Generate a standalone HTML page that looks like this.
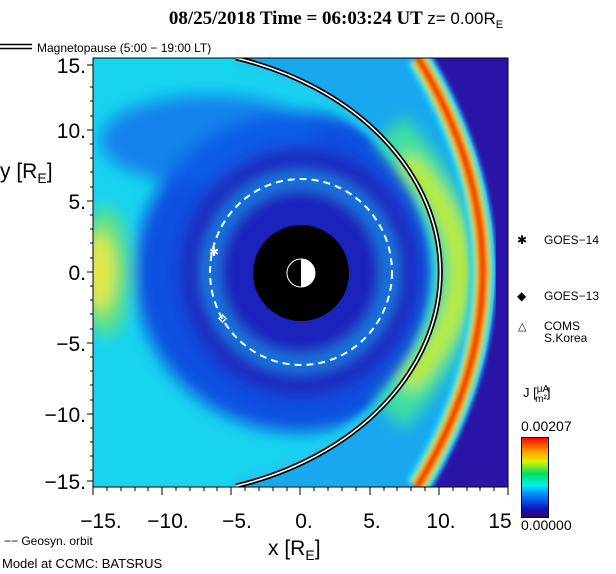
<!DOCTYPE html>
<html><head><style>
html,body{margin:0;padding:0;background:#fff;width:616px;height:574px;overflow:hidden;font-family:"Liberation Sans",sans-serif}
svg{display:block}
</style></head><body>
<svg width="616" height="574" viewBox="0 0 616 574" xmlns="http://www.w3.org/2000/svg">
<defs>
<clipPath id="pc"><rect x="93" y="58" width="415" height="429"/></clipPath>
<filter id="b8" x="-50%" y="-50%" width="200%" height="200%"><feGaussianBlur stdDeviation="8"/></filter>
<filter id="b4" x="-50%" y="-50%" width="200%" height="200%"><feGaussianBlur stdDeviation="4"/></filter>
<filter id="b2" x="-20%" y="-20%" width="140%" height="140%"><feGaussianBlur stdDeviation="2"/></filter>
<linearGradient id="cb" x1="0" y1="1" x2="0" y2="0">
<stop offset="0" stop-color="#3a0060"/><stop offset="0.1" stop-color="#1010c0"/>
<stop offset="0.3" stop-color="#0090ff"/><stop offset="0.4" stop-color="#00f0f0"/>
<stop offset="0.55" stop-color="#00e060"/><stop offset="0.7" stop-color="#e0f000"/>
<stop offset="0.82" stop-color="#ffa000"/><stop offset="1" stop-color="#ff0000"/>
</linearGradient>
</defs>
<text x="336" y="24" text-anchor="middle" font-family="Liberation Serif,serif" font-weight="bold" font-size="19">08/25/2018 Time = 06:03:24 UT <tspan font-family="Liberation Sans,sans-serif" font-weight="normal" font-size="17">z= 0.00R</tspan><tspan font-family="Liberation Sans,sans-serif" font-weight="normal" font-size="11" dy="4">E</tspan></text>
<line x1="0" y1="44.5" x2="32" y2="44.5" stroke="#000" stroke-width="1.5"/>
<line x1="0" y1="48.5" x2="32" y2="48.5" stroke="#000" stroke-width="1.5"/>
<text x="37" y="52" font-size="12">Magnetopause (5:00 − 19:00 LT)</text>
<g clip-path="url(#pc)">
<rect x="93" y="58" width="415" height="429" fill="#18d4f0"/>
<g filter="url(#b8)">
<ellipse cx="300" cy="272" rx="165" ry="160" fill="#1050e0"/>
<ellipse cx="210" cy="140" rx="110" ry="45" fill="#0a60e8" opacity="0.7"/>
<ellipse cx="300" cy="272" rx="120" ry="125" fill="#1a28c0"/>
<ellipse cx="300" cy="272" rx="96" ry="98" fill="#1890ec"/>
<ellipse cx="300" cy="272" rx="84" ry="86" fill="#1a20bc"/>
<ellipse cx="105" cy="272" rx="25" ry="65" fill="#60e080"/>
<ellipse cx="100" cy="272" rx="14" ry="40" fill="#e8e840"/>
</g>
<g filter="url(#b4)">
<path d="M236 58 A290 224 0 0 1 236 486" fill="none" stroke="#20c8f0" stroke-width="18"/>
</g>
<path d="M236 58 A290 224 0 0 1 236 486 L600 487 L600 58 Z" fill="#18a8f0"/>
<g filter="url(#b8)" fill="none">
<path d="M390 130 Q525 272 390 415" stroke="#40e0a0" stroke-width="40"/>
<path d="M405 160 Q515 272 405 385" stroke="#c0ec20" stroke-width="22"/>
</g>
<path d="M430 58 Q560 272 429 487 L560 487 L560 58 Z" fill="#2a14a8"/>
<g fill="none" filter="url(#b2)">
<path d="M418 58 Q548 272 417 487" stroke="#20d0f0" stroke-width="26"/>
<path d="M418 58 Q548 272 417 487" stroke="#a0f030" stroke-width="16"/>
<path d="M418 58 Q548 272 417 487" stroke="#ff9000" stroke-width="11"/>
<path d="M418 58 Q548 272 417 487" stroke="#f01800" stroke-width="5"/>
</g>
<path d="M236 58 A290 224 0 0 1 236 486" fill="none" stroke="#000" stroke-width="5"/>
<path d="M236 58 A290 224 0 0 1 236 486" fill="none" stroke="#fff" stroke-width="1.6"/>
<ellipse cx="301" cy="272" rx="91" ry="93" fill="none" stroke="#fff" stroke-width="2" stroke-dasharray="7,5"/>
<circle cx="301" cy="273" r="48" fill="#000"/>
<circle cx="301" cy="273" r="14" fill="#000" stroke="#fff" stroke-width="1"/>
<path d="M301 259 A14 14 0 0 1 301 287 Z" fill="#fff"/>
<text x="214" y="256" fill="#fff" font-size="12" text-anchor="middle">✱</text>
<rect x="220" y="316" width="5" height="5" fill="none" stroke="#fff" stroke-width="1.3" transform="rotate(45 222.5 318.5)"/>
</g>
<rect x="93" y="58" width="415" height="429" fill="none" stroke="#000" stroke-width="1"/>
<g stroke="#000" stroke-width="1">
<path d="M93 487v8M162 487v8M231 487v8M300 487v8M370 487v8M439 487v8M508 487v8"/>
<path d="M107 487v4M121 487v4M135 487v4M148 487v4M176 487v4M190 487v4M204 487v4M217 487v4M245 487v4M259 487v4M273 487v4M287 487v4M314 487v4M328 487v4M342 487v4M356 487v4M384 487v4M397 487v4M411 487v4M425 487v4M453 487v4M467 487v4M480 487v4M494 487v4"/>
<path d="M93 65h-6M93 130h-6M93 201h-6M93 272h-6M93 343h-6M93 414h-6M93 481h-6"/>
<path d="M93 87h-3M93 101h-3M93 116h-3M93 144h-3M93 158h-3M93 172h-3M93 187h-3M93 215h-3M93 229h-3M93 243h-3M93 258h-3M93 286h-3M93 300h-3M93 314h-3M93 329h-3M93 357h-3M93 371h-3M93 385h-3M93 400h-3M93 428h-3M93 442h-3M93 456h-3M93 470h-3"/>
</g>
<g font-size="21" fill="#000">
<text x="86" y="73" text-anchor="end">15.</text>
<text x="86" y="138" text-anchor="end">10.</text>
<text x="86" y="209" text-anchor="end">5.</text>
<text x="86" y="280" text-anchor="end">0.</text>
<text x="86" y="351" text-anchor="end">−5.</text>
<text x="86" y="422" text-anchor="end">−10.</text>
<text x="86" y="489" text-anchor="end">−15.</text>
<text x="101" y="528" text-anchor="middle">−15.</text>
<text x="168" y="528" text-anchor="middle">−10.</text>
<text x="237" y="528" text-anchor="middle">−5.</text>
<text x="304" y="528" text-anchor="middle">0.</text>
<text x="372" y="528" text-anchor="middle">5.</text>
<text x="441" y="528" text-anchor="middle">10.</text>
<text x="500" y="528" text-anchor="middle">15</text>
</g>
<text x="0" y="178" font-size="21">y [R<tspan font-size="14" dy="5">E</tspan><tspan dy="-5">]</tspan></text>
<text x="268" y="555" font-size="21">x [R<tspan font-size="14" dy="5">E</tspan><tspan dy="-5">]</tspan></text>
<text x="4" y="545" font-size="12">−− Geosyn. orbit</text>
<text x="2" y="568" font-size="13">Model at CCMC: BATSRUS</text>
<g font-size="12">
<text x="517" y="244">✱</text><text x="544" y="244">GOES−14</text>
<text x="517" y="300">◆</text><text x="544" y="300">GOES−13</text>
<text x="518" y="330" font-size="11">△</text><text x="544" y="330">COMS</text>
<text x="544" y="342">S.Korea</text>
<text x="523" y="397" font-size="13">J [<tspan font-size="10" dy="-5">μA</tspan><tspan dx="-14" dy="10" font-size="10">m²</tspan><tspan dy="-5">]</tspan></text>
<text x="521" y="431" font-size="14">0.00207</text>
<text x="521" y="530" font-size="14">0.00000</text>
</g>
<rect x="521.5" y="437.5" width="27" height="80" fill="url(#cb)" stroke="#000"/>
</svg>
</body></html>
